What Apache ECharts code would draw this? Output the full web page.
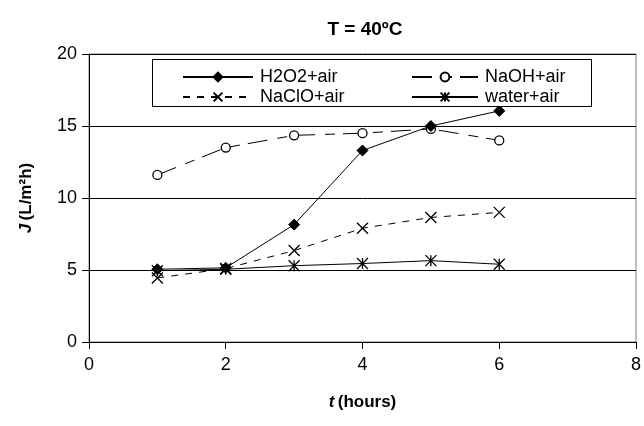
<!DOCTYPE html>
<html>
<head>
<meta charset="utf-8">
<script src="https://cdn.jsdelivr.net/npm/echarts@6/dist/echarts.min.js"></script>
<style>
  html, body { margin: 0; padding: 0; background: #fff; }
  #chart { width: 644px; height: 426px; }
</style>
</head>
<body>
<div id="chart"></div>
<script>
// time in hours
const hours = [1, 2, 3, 4, 5, 6]
// flux J (L/m2h)
const h2o2Air = [5.05, 5.15, 8.15, 13.3, 15.0, 16.05]
const naohAir = [11.6, 13.5, 14.35, 14.5, 14.8, 14.0]
const naclAir = [4.45, 5.1, 6.35, 7.9, 8.65, 9.0]
const waterAir = [4.95, 5.05, 5.3, 5.45, 5.65, 5.4]

const xTicks = [0, 2, 4, 6, 8]
const yTicks = [0, 5, 10, 15, 20]

const font = 'Arial, "Liberation Sans", sans-serif'

function pairs(vals) {
  return hours.map((h, i) => [h, vals[i]])
}

const starPath = 'path://M0,0L10,10M10,0L0,10M5,0L5,10'
const crossPath = 'path://M0,0L10,10M10,0L0,10'

const legendText = { fontFamily: font, fontSize: 18, lineHeight: 18, color: '#000', padding: [0, 0, 0, 2] }

let myChart = echarts.init(document.getElementById('chart'))
myChart.setOption({
  animation: false,
  backgroundColor: '#fff',
  textStyle: { fontFamily: font, color: '#000' },
  title: {
    text: 'T = 40ºC',
    left: 360,
    textAlign: 'center',
    top: 15,
    textStyle: { fontFamily: font, fontSize: 19, fontWeight: 'bold', color: '#000' },
  },
  graphic: [
    {
      type: 'rect',
      shape: { x: 152.5, y: 59.5, width: 439, height: 47 },
      style: { fill: '#fff', stroke: '#000', lineWidth: 1 },
      z: 50,
    },
  ],
  legend: [
    {
      orient: 'vertical',
      left: 177,
      top: 63,
      itemWidth: 70,
      itemHeight: 11,
      itemGap: 2,
      z: 60,
      textStyle: legendText,
      data: ['H2O2+air', 'NaClO+air'],
    },
    {
      orient: 'vertical',
      left: 406,
      top: 63,
      itemWidth: 66,
      itemHeight: 11,
      itemGap: 2,
      z: 60,
      textStyle: legendText,
      data: ['NaOH+air', 'water+air'],
    },
  ],
  grid: {
    left: 89,
    right: 8,
    top: 54,
    bottom: 84,
    show: true,
    borderColor: '#808080',
    borderWidth: 1,
  },
  xAxis: {
    type: 'value',
    min: 0,
    max: 8,
    interval: 2,
    name: '{i|t} {b|(hours)}',
    nameLocation: 'middle',
    nameGap: 52,
    nameTextStyle: {
      rich: {
        i: { fontFamily: font, fontSize: 17, fontWeight: 'bold', fontStyle: 'italic', color: '#000' },
        b: { fontFamily: font, fontSize: 17, fontWeight: 'bold', color: '#000' },
      },
    },
    axisLine: { lineStyle: { color: '#000', width: 1 } },
    axisTick: { show: true, inside: false, length: 7, lineStyle: { color: '#000' } },
    axisLabel: {
      fontFamily: font,
      fontSize: 18,
      color: '#000',
      margin: 14,
      formatter: (v) => (xTicks.includes(v) ? String(v) : ''),
    },
    splitLine: { show: false },
  },
  yAxis: {
    type: 'value',
    min: 0,
    max: 20,
    interval: 5,
    name: '{i|J} {b|(L/m²h)}',
    nameLocation: 'middle',
    nameRotate: 90,
    nameGap: 54,
    nameTextStyle: {
      rich: {
        i: { fontFamily: font, fontSize: 17, fontWeight: 'bold', fontStyle: 'italic', color: '#000' },
        b: { fontFamily: font, fontSize: 17, fontWeight: 'bold', color: '#000' },
      },
    },
    axisLine: { show: true, lineStyle: { color: '#000', width: 1 } },
    axisTick: { show: true, inside: false, length: 7, lineStyle: { color: '#000' } },
    axisLabel: {
      fontFamily: font,
      fontSize: 18,
      color: '#000',
      margin: 12,
      formatter: (v) => (yTicks.includes(v) ? String(v) : ''),
    },
    splitLine: { show: true, lineStyle: { color: '#000', width: 1 } },
  },
  series: [
    {
      name: 'H2O2+air',
      type: 'line',
      data: pairs(h2o2Air),
      symbol: 'diamond',
      symbolSize: 11,
      lineStyle: { color: '#000', width: 1 },
      itemStyle: { color: '#000', borderColor: '#000', borderWidth: 1 },
      z: 4,
    },
    {
      name: 'NaOH+air',
      type: 'line',
      data: pairs(naohAir),
      symbol: 'circle',
      symbolSize: 9,
      lineStyle: { color: '#000', width: 1, type: [20, 10, 10, 8] },
      itemStyle: { color: '#fff', borderColor: '#000', borderWidth: 1.3 },
      z: 3,
    },
    {
      name: 'NaClO+air',
      type: 'line',
      data: pairs(naclAir),
      symbol: crossPath,
      symbolSize: 11,
      lineStyle: { color: '#000', width: 1, type: [7, 7] },
      itemStyle: { color: 'none', borderColor: '#000', borderWidth: 1.3 },
      z: 3,
    },
    {
      name: 'water+air',
      type: 'line',
      data: pairs(waterAir),
      symbol: starPath,
      symbolSize: 11,
      lineStyle: { color: '#000', width: 1 },
      itemStyle: { color: 'none', borderColor: '#000', borderWidth: 1.3 },
      z: 3,
    },
  ],
})
</script>
</body>
</html>
